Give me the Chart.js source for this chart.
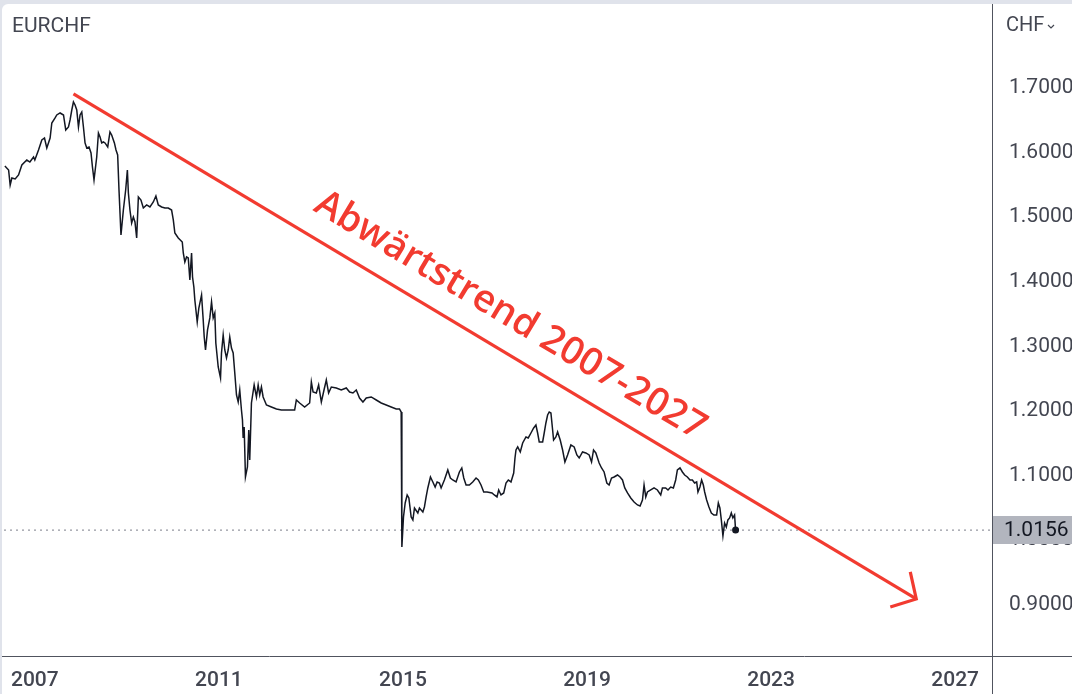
<!DOCTYPE html>
<html>
<head>
<meta charset="utf-8">
<title>EURCHF</title>
<script src="https://cdn.jsdelivr.net/npm/chart.js@4.4.0/dist/chart.umd.min.js"></script>
<style>
    html, body { margin: 0; padding: 0; background: #e0e3eb; }
    #wrap { width: 1072px; height: 694px; }
</style>
</head>
<body>
<div id="wrap"><canvas id="chart" width="1072" height="694"></canvas></div>
<script>
// EURCHF weekly close (decimal year / rate)
const years = [
    2006.349,2006.430,2006.464,2006.501,2006.573,2006.646,2006.718,2006.826,2006.892,2006.972,
    2007.000,2007.080,2007.152,2007.210,2007.260,2007.332,2007.369,2007.440,2007.477,2007.549,
    2007.623,2007.672,2007.731,2007.766,2007.803,2007.839,2007.874,2007.911,2007.948,2007.983,
    2008.020,2008.056,2008.091,2008.128,2008.178,2008.221,2008.252,2008.286,2008.345,2008.382,
    2008.417,2008.453,2008.490,2008.525,2008.584,2008.633,2008.670,2008.729,2008.764,2008.800,
    2008.829,2008.872,2008.924,2008.974,2009.011,2009.033,2009.067,2009.104,2009.141,2009.176,
    2009.213,2009.250,2009.306,2009.358,2009.430,2009.501,2009.575,2009.631,2009.683,2009.755,
    2009.827,2009.900,2009.972,2010.009,2010.043,2010.117,2010.204,2010.226,2010.260,2010.297,
    2010.334,2010.369,2010.406,2010.427,2010.456,2010.477,2010.529,2010.564,2010.623,2010.659,
    2010.681,2010.709,2010.753,2010.803,2010.840,2010.876,2010.911,2010.933,2010.985,2011.035,
    2011.056,2011.093,2011.128,2011.165,2011.202,2011.236,2011.273,2011.310,2011.345,2011.382,
    2011.419,2011.453,2011.490,2011.512,2011.527,2011.549,2011.577,2011.620,2011.649,2011.670,
    2011.707,2011.766,2011.816,2011.853,2011.887,2011.924,2011.961,2012.033,2012.141,2012.250,
    2012.358,2012.646,2012.683,2012.755,2012.863,2012.972,2013.009,2013.046,2013.117,2013.167,
    2013.226,2013.284,2013.334,2013.384,2013.443,2013.551,2013.659,2013.768,2013.840,2013.913,
    2013.985,2014.056,2014.130,2014.202,2014.310,2014.419,2014.527,2014.636,2014.744,2014.853,
    2014.924,2014.961,2014.976,2015.011,2015.048,2015.091,2015.128,2015.178,2015.215,2015.250,
    2015.323,2015.358,2015.432,2015.466,2015.503,2015.540,2015.597,2015.649,2015.699,2015.742,
    2015.792,2015.829,2015.900,2015.974,2016.030,2016.082,2016.154,2016.226,2016.278,2016.321,
    2016.371,2016.443,2016.516,2016.588,2016.638,2016.696,2016.755,2016.827,2016.935,2016.985,
    2017.043,2017.080,2017.130,2017.189,2017.239,2017.289,2017.347,2017.406,2017.434,2017.456,
    2017.493,2017.549,2017.601,2017.673,2017.722,2017.781,2017.840,2017.889,2017.926,2017.961,
    2018.035,2018.069,2018.106,2018.143,2018.178,2018.215,2018.252,2018.273,2018.323,2018.360,
    2018.417,2018.469,2018.519,2018.577,2018.649,2018.720,2018.779,2018.829,2018.902,2018.974,
    2019.046,2019.098,2019.141,2019.191,2019.263,2019.315,2019.371,2019.430,2019.479,2019.532,
    2019.588,2019.662,2019.718,2019.770,2019.820,2019.879,2019.950,2020.022,2020.096,2020.152,
    2020.204,2020.239,2020.276,2020.312,2020.384,2020.456,2020.529,2020.601,2020.638,2020.709,
    2020.759,2020.818,2020.876,2020.926,2020.963,2021.020,2021.072,2021.122,2021.180,2021.237,
    2021.289,2021.338,2021.382,2021.410,2021.453,2021.490,2021.527,2021.556,2021.599,2021.649,
    2021.701,2021.757,2021.816,2021.853,2021.887,2021.918,2021.953,2021.989,2022.026,2022.061,
    2022.098,2022.135,2022.169,2022.206,2022.228
];
const rates = [
    1.5793,1.5731,1.5498,1.5607,1.5591,1.5653,1.5808,1.5885,1.5854,1.5932,
    1.5885,1.6040,1.6195,1.6226,1.6071,1.6226,1.6458,1.6536,1.6582,1.6613,
    1.6582,1.6350,1.6396,1.6505,1.6659,1.6783,1.6737,1.6659,1.6396,1.6582,
    1.6628,1.6396,1.6149,1.6071,1.6087,1.5994,1.5777,1.5576,1.5932,1.6303,
    1.6241,1.6149,1.6164,1.6149,1.6087,1.6319,1.6272,1.6149,1.6040,1.5963,
    1.5421,1.4724,1.5111,1.5421,1.5731,1.5375,1.5111,1.4910,1.5003,1.4926,
    1.4678,1.5313,1.5266,1.5142,1.5189,1.5158,1.5235,1.5328,1.5189,1.5158,
    1.5142,1.5142,1.5111,1.4957,1.4755,1.4678,1.4616,1.4446,1.4306,1.4384,
    1.4368,1.4028,1.4446,1.4074,1.3919,1.3718,1.3378,1.3594,1.3796,1.3409,
    1.3145,1.2944,1.3254,1.3440,1.3687,1.3440,1.3517,1.3053,1.2681,1.2511,
    1.2898,1.3176,1.2944,1.2820,1.2944,1.3145,1.2975,1.2898,1.2588,1.2248,
    1.2139,1.2325,1.2015,1.1861,1.1582,1.1752,1.0978,1.1133,1.1706,1.1241,
    1.2124,1.2402,1.2217,1.2402,1.2248,1.2371,1.2217,1.2093,1.2062,1.2031,
    1.2015,1.2015,1.2170,1.2124,1.2062,1.2124,1.2449,1.2294,1.2279,1.2402,
    1.2139,1.2325,1.2480,1.2279,1.2371,1.2356,1.2325,1.2356,1.2294,1.2279,
    1.2325,1.2201,1.2139,1.2201,1.2217,1.2170,1.2124,1.2093,1.2062,1.2031,
    1.2031,1.1984,0.9895,1.0359,1.0576,1.0700,1.0653,1.0359,1.0313,1.0498,
    1.0421,1.0498,1.0436,1.0514,1.0669,1.0808,1.0978,1.0901,1.0823,1.0901,
    1.0885,1.0808,1.0932,1.1087,1.0963,1.0932,1.0901,1.1056,1.1118,1.0963,
    1.0854,1.0854,1.0901,1.0963,1.0932,1.0854,1.0746,1.0746,1.0731,1.0700,
    1.0669,1.0777,1.0700,1.0731,1.0885,1.0932,1.0901,1.1040,1.1272,1.1396,
    1.1443,1.1365,1.1505,1.1597,1.1582,1.1659,1.1737,1.1783,1.1659,1.1520,
    1.1520,1.1659,1.1814,1.1938,1.1984,1.1969,1.1706,1.1551,1.1597,1.1675,
    1.1551,1.1396,1.1210,1.1319,1.1474,1.1443,1.1319,1.1272,1.1365,1.1350,
    1.1319,1.1210,1.1396,1.1350,1.1195,1.1118,1.1056,1.0885,1.0854,1.0963,
    1.0978,1.1009,1.0978,1.0932,1.0808,1.0731,1.0653,1.0591,1.0545,1.0529,
    1.0622,1.0854,1.0669,1.0746,1.0777,1.0808,1.0777,1.0700,1.0808,1.0808,
    1.0777,1.0823,1.0808,1.0932,1.1087,1.1118,1.1056,1.1009,1.0978,1.0932,
    1.0932,1.0885,1.0901,1.0746,1.0823,1.0932,1.0854,1.0746,1.0622,1.0514,
    1.0421,1.0390,1.0390,1.0576,1.0498,1.0313,1.0065,1.0266,1.0204,1.0313,
    1.0344,1.0421,1.0344,1.0390,1.0156
];

const lastRate = 1.0156;

// hand-drawn trend line and arrow head
const trendYears = [2007.84, 2026.154];
const trendRates = [1.6907, 0.909];
const arrowYears = [2026.024, 2026.154, 2025.59];
const arrowRates = [0.9508, 0.909, 0.8966];
const trendLabel = 'Abwärtstrend 2007-2027';
const labelYear = 2017.33;
const labelRate = 1.347;

const xTicks = [2007, 2011, 2015, 2019, 2023, 2027];
const yTicks = [0.9, 1.0, 1.1, 1.2, 1.3, 1.4, 1.5, 1.6, 1.7];
const xRange = [2006.33, 2027.80];
const yRange = [0.8207, 1.830];

const RED = '#f23b30';
const TEXT = '#434651';
const AXIS_LINE = '#50535e';

const toPoints = (xs, ys) => xs.map((x, i) => ({ x: x, y: ys[i] }));

// frame, axis separators, price tag, headers, trend caption
const decorPlugin = {
    id: 'decor',
    beforeDraw(chart) {
        const ctx = chart.ctx;
        ctx.save();
        ctx.fillStyle = '#e0e3eb';
        ctx.fillRect(0, 0, chart.width, chart.height);
        ctx.fillStyle = '#ffffff';
        ctx.beginPath();
        ctx.roundRect(2, 4, chart.width - 2, chart.height - 4, [6, 0, 0, 0]);
        ctx.fill();
        ctx.restore();
    },
    afterDraw(chart) {
        const ctx = chart.ctx;
        const area = chart.chartArea;
        const x = chart.scales.x;
        const y = chart.scales.y;
        ctx.save();

        // separators
        ctx.strokeStyle = AXIS_LINE;
        ctx.lineWidth = 1;
        ctx.beginPath();
        ctx.moveTo(area.right + 0.5, 4);
        ctx.lineTo(area.right + 0.5, chart.height);
        ctx.moveTo(2, area.bottom + 0.5);
        ctx.lineTo(chart.width, area.bottom + 0.5);
        ctx.stroke();

        // last price tag
        const py = Math.round(y.getPixelForValue(lastRate));
        ctx.fillStyle = '#b2b5be';
        ctx.fillRect(area.right + 1, py - 14, chart.width - area.right - 1, 28);
        ctx.fillStyle = '#131722';
        ctx.font = '21px Roboto';
        ctx.textAlign = 'left';
        ctx.textBaseline = 'middle';
        ctx.fillText(lastRate.toFixed(4), area.right + 12, py + 1);

        // headers
        ctx.fillStyle = TEXT;
        ctx.font = '21px Roboto';
        ctx.fillText('EURCHF', 12, 27);
        ctx.font = '20px Roboto';
        ctx.fillText('CHF', area.right + 14, 26);
        ctx.strokeStyle = TEXT;
        ctx.lineWidth = 1.2;
        ctx.beginPath();
        ctx.moveTo(area.right + 56, 25);
        ctx.lineTo(area.right + 59, 28);
        ctx.lineTo(area.right + 62, 25);
        ctx.stroke();

        // caption along the trend line
        const x0 = x.getPixelForValue(trendYears[0]);
        const y0 = y.getPixelForValue(trendRates[0]);
        const x1 = x.getPixelForValue(trendYears[1]);
        const y1 = y.getPixelForValue(trendRates[1]);
        const angle = Math.atan2(y1 - y0, x1 - x0);
        ctx.translate(x.getPixelForValue(labelYear), y.getPixelForValue(labelRate));
        ctx.rotate(angle);
        ctx.fillStyle = RED;
        ctx.font = '600 38px "Open Sans"';
        ctx.textAlign = 'center';
        ctx.textBaseline = 'middle';
        ctx.fillText(trendLabel, 0, 0);
        ctx.restore();
    }
};

const noPadding = axis => {
    axis.paddingTop = 0;
    axis.paddingBottom = 0;
    axis.paddingLeft = 0;
    axis.paddingRight = 0;
};

new Chart(document.getElementById('chart'), {
    type: 'line',
    data: {
        datasets: [
            {
                label: 'EURCHF',
                data: toPoints(years, rates),
                borderColor: '#131722',
                borderWidth: 1.5,
                tension: 0,
                pointRadius: ctx => ctx.dataIndex === years.length - 1 ? 3.5 : 0,
                pointBackgroundColor: '#131722',
                pointBorderWidth: 0
            },
            {
                label: 'Trend',
                data: toPoints(trendYears, trendRates),
                borderColor: RED,
                borderWidth: 3.2,
                pointRadius: 0
            },
            {
                label: 'Arrow',
                data: toPoints(arrowYears, arrowRates),
                borderColor: RED,
                borderWidth: 3.2,
                borderJoinStyle: 'miter',
                pointRadius: 0
            },
            {
                label: 'Last',
                data: toPoints(xRange, [lastRate, lastRate]),
                borderColor: '#9598a1',
                borderWidth: 1.2,
                borderDash: [2, 4],
                pointRadius: 0
            }
        ]
    },
    options: {
        responsive: false,
        animation: false,
        devicePixelRatio: 1,
        layout: { padding: { left: 2, top: 4, right: 0, bottom: 0 } },
        plugins: {
            legend: { display: false },
            tooltip: { enabled: false }
        },
        scales: {
            x: {
                type: 'linear',
                min: xRange[0],
                max: xRange[1],
                grid: { display: false },
                border: { display: false },
                afterBuildTicks: axis => { axis.ticks = xTicks.map(v => ({ value: v })); },
                afterFit: axis => { axis.height = 38; noPadding(axis); },
                ticks: {
                    autoSkip: false,
                    maxRotation: 0,
                    padding: 4,
                    color: TEXT,
                    font: { family: 'Roboto', size: 21, weight: '500' },
                    callback: v => String(v)
                }
            },
            y: {
                position: 'right',
                min: yRange[0],
                max: yRange[1],
                grid: { display: false },
                border: { display: false },
                afterBuildTicks: axis => { axis.ticks = yTicks.map(v => ({ value: v })); },
                afterFit: axis => { axis.width = 80; noPadding(axis); },
                ticks: {
                    padding: 9,
                    color: TEXT,
                    font: { family: 'Roboto', size: 21 },
                    callback: v => Number(v).toFixed(4)
                }
            }
        }
    },
    plugins: [decorPlugin]
});
</script>
</body>
</html>
